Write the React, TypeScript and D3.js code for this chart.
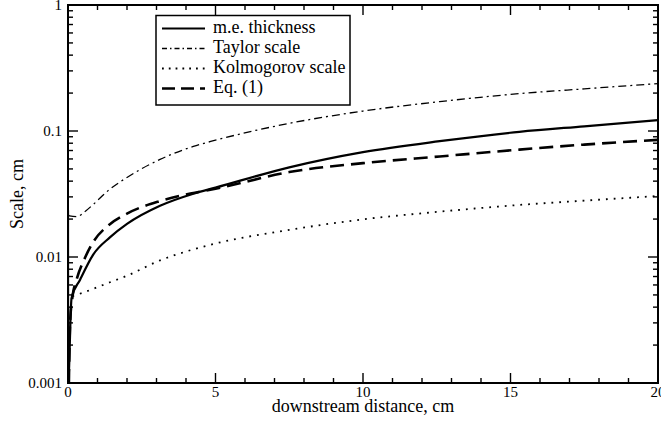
import React from "react";
import * as d3 from "d3";

// Downstream distance (cm) and the length scales (cm) at each station.
const meX = [0, 0.005, 0.12, 0.41, 0.86, 1.42, 2, 3.12, 4.25, 5, 7.5, 10, 12.6, 15.3, 17.5, 20];
const meThickness = [0.0235, 0.001, 0.0047, 0.0066, 0.0105, 0.0143, 0.0183, 0.0255, 0.0318, 0.0355, 0.0515, 0.068, 0.083, 0.0985, 0.109, 0.122];

const taylorX = [0.02, 0.05, 0.3, 0.6, 0.86, 1.42, 2, 3.12, 4.25, 5, 7.5, 10, 12.6, 15.3, 17.5, 20];
const taylorScale = [0.0215, 0.0212, 0.0209, 0.0232, 0.0262, 0.0345, 0.0428, 0.0595, 0.0755, 0.0845, 0.115, 0.144, 0.171, 0.198, 0.216, 0.238];

const kolmogorovX = [0.15, 0.5, 0.86, 1.42, 2, 3.12, 4.25, 5, 7.5, 10, 12.6, 15.3, 17.5, 20];
const kolmogorovScale = [0.0049, 0.0052, 0.0056, 0.0063, 0.0071, 0.0094, 0.0115, 0.0128, 0.0164, 0.0199, 0.0229, 0.0259, 0.028, 0.0305];

const eqX = [0.03, 0.045, 0.07, 0.15, 0.29, 0.58, 0.86, 1.42, 2, 3.12, 4.25, 5, 7.5, 10, 12.6, 15.3, 17.5, 20];
const eqScale = [0.001, 0.0017, 0.003, 0.0048, 0.0066, 0.0099, 0.0132, 0.0182, 0.0221, 0.0278, 0.0322, 0.0348, 0.0472, 0.0556, 0.0628, 0.0712, 0.078, 0.085];

const xMajorTicks = [0, 5, 10, 15, 20];
const yMajorTicks = [0.001, 0.01, 0.1, 1];
const yTickLabels = ["0.001", "0.01", "0.1", "1"];

const legendLabels = ["m.e. thickness", "Taylor scale", "Kolmogorov scale", "Eq. (1)"];

const W = 661;
const H = 426;
const plot = { left: 68, top: 5, right: 658, bottom: 383 };
const FONT = "'Liberation Serif', 'Times New Roman', 'DejaVu Serif', serif";

type Style = { width: number; dash: string | undefined };

const styles: Style[] = [
  { width: 2.2, dash: undefined },
  { width: 1.3, dash: "8 4 2 4" },
  { width: 1.8, dash: "1.8 6" },
  { width: 2.6, dash: "14 7" },
];

const legendDash: (string | undefined)[] = [undefined, "5 3 1.5 3", "1.8 5", "13 6"];

export default function App() {
  const x = d3.scaleLinear().domain([0, 20]).range([plot.left, plot.right]);
  const y = d3.scaleLog().domain([0.001, 1]).range([plot.bottom, plot.top]);

  const series = [
    { xs: meX, ys: meThickness },
    { xs: taylorX, ys: taylorScale },
    { xs: kolmogorovX, ys: kolmogorovScale },
    { xs: eqX, ys: eqScale },
  ];

  const line = d3
    .line<[number, number]>()
    .x((d) => x(d[0]))
    .y((d) => y(d[1]))
    .curve(d3.curveMonotoneX);

  const xMinor = d3.range(0, 21, 1).filter((v) => v % 5 !== 0);
  const yMinor: number[] = [];
  for (const dec of [0.001, 0.01, 0.1]) {
    for (let k = 2; k <= 9; k++) yMinor.push(dec * k);
  }

  const majorLen = 10;
  const minorLen = 5;
  const tickStroke = 1.4;

  return (
    <svg
      width={W}
      height={H}
      style={{ position: "absolute", left: 0, top: 0, background: "#fff", fontFamily: FONT }}
    >
      <rect x={0} y={0} width={W} height={H} fill="#fff" />
      <defs>
        <clipPath id="plotArea">
          <rect x={plot.left} y={plot.top} width={plot.right - plot.left} height={plot.bottom - plot.top} />
        </clipPath>
      </defs>

      {/* data curves */}
      <g clipPath="url(#plotArea)" fill="none" stroke="#000">
        {series.map((s, i) => (
          <path
            key={i}
            d={line(s.xs.map((v, j) => [v, s.ys[j]] as [number, number])) || ""}
            strokeWidth={styles[i].width}
            strokeDasharray={styles[i].dash}
            strokeLinejoin="round"
          />
        ))}
      </g>

      {/* ticks, mirrored on all four sides */}
      <g stroke="#000" strokeWidth={tickStroke}>
        {xMajorTicks.map((v) => (
          <g key={"xM" + v}>
            <line x1={x(v)} x2={x(v)} y1={plot.bottom} y2={plot.bottom - majorLen} />
            <line x1={x(v)} x2={x(v)} y1={plot.top} y2={plot.top + majorLen} />
          </g>
        ))}
        {xMinor.map((v) => (
          <g key={"xm" + v}>
            <line x1={x(v)} x2={x(v)} y1={plot.bottom} y2={plot.bottom - minorLen} />
            <line x1={x(v)} x2={x(v)} y1={plot.top} y2={plot.top + minorLen} />
          </g>
        ))}
        {yMajorTicks.map((v) => (
          <g key={"yM" + v}>
            <line x1={plot.left} x2={plot.left + majorLen} y1={y(v)} y2={y(v)} />
            <line x1={plot.right} x2={plot.right - majorLen} y1={y(v)} y2={y(v)} />
          </g>
        ))}
        {yMinor.map((v) => (
          <g key={"ym" + v}>
            <line x1={plot.left} x2={plot.left + minorLen} y1={y(v)} y2={y(v)} />
            <line x1={plot.right} x2={plot.right - minorLen} y1={y(v)} y2={y(v)} />
          </g>
        ))}
      </g>

      {/* frame */}
      <rect
        x={plot.left}
        y={plot.top}
        width={plot.right - plot.left}
        height={plot.bottom - plot.top}
        fill="none"
        stroke="#000"
        strokeWidth={2}
      />

      {/* tick labels */}
      <g fontSize={15} fill="#000">
        {xMajorTicks.map((v) => (
          <text key={"xl" + v} x={x(v)} y={397} textAnchor="middle">
            {v}
          </text>
        ))}
        {yMajorTicks.map((v, i) => (
          <text key={"yl" + v} x={62} y={y(v) + 5} textAnchor="end">
            {yTickLabels[i]}
          </text>
        ))}
      </g>

      {/* axis titles */}
      <text x={(plot.left + plot.right) / 2} y={412} fontSize={18} textAnchor="middle">
        downstream distance, cm
      </text>
      <text
        transform={`translate(23, ${(plot.top + plot.bottom) / 2}) rotate(-90)`}
        fontSize={18}
        textAnchor="middle"
      >
        Scale, cm
      </text>

      {/* legend */}
      <g>
        <rect x={156} y={15.5} width={194} height={89.5} fill="#fff" stroke="#000" strokeWidth={1.5} />
        {legendLabels.map((label, i) => {
          const base = 33 + i * 20;
          return (
            <g key={label}>
              <line
                x1={162}
                x2={205}
                y1={base - 4.5}
                y2={base - 4.5}
                stroke="#000"
                strokeWidth={styles[i].width}
                strokeDasharray={legendDash[i]}
              />
              <text x={213} y={base} fontSize={18}>
                {label}
              </text>
            </g>
          );
        })}
      </g>
    </svg>
  );
}
